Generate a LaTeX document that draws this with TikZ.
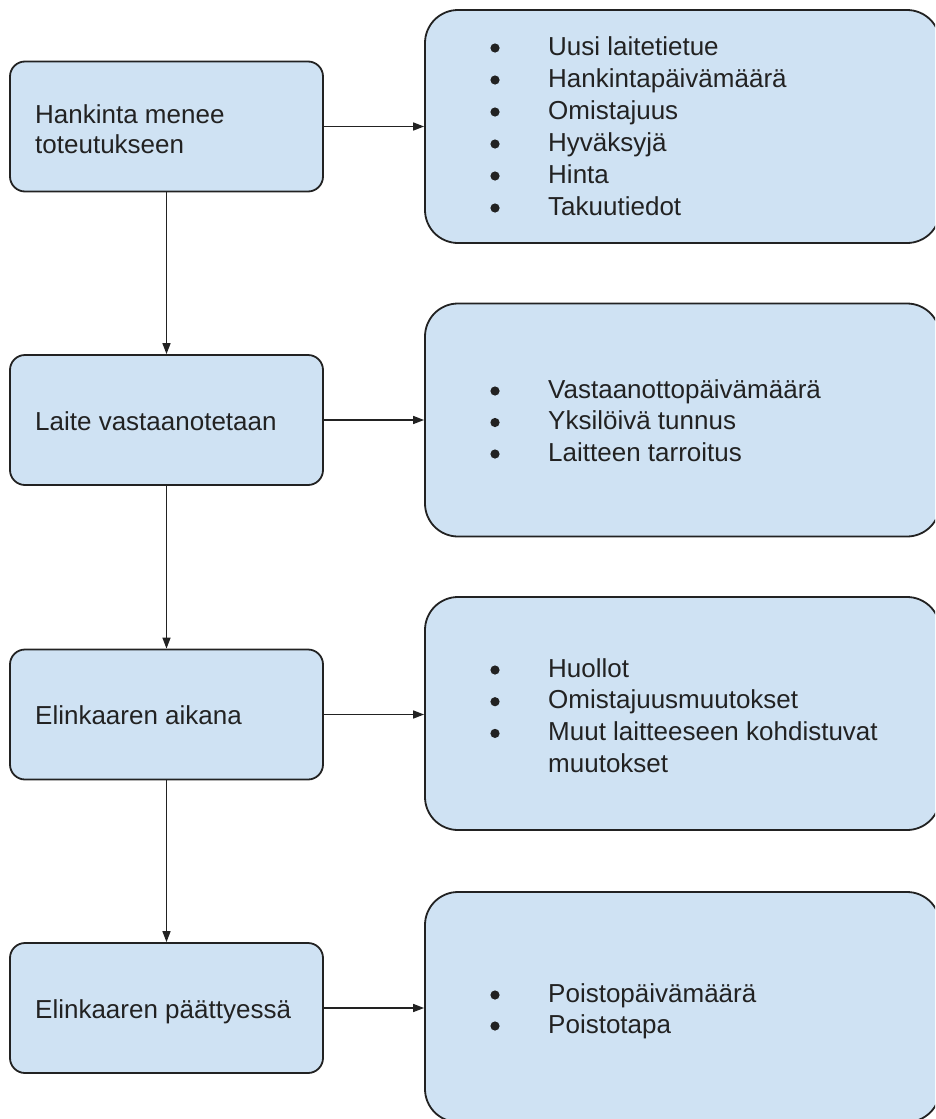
\documentclass[tikz,border=0pt]{standalone}
\usepackage{fontspec}
\setmainfont{Liberation Sans}
\usetikzlibrary{arrows.meta}
\definecolor{boxfill}{HTML}{CFE2F3}
\definecolor{ink}{HTML}{222222}
\begin{document}
\begin{tikzpicture}[x=1pt,y=-1pt,
  leftbox/.style={draw=ink, fill=boxfill, line width=1.8pt, rounded corners=15pt,
                  minimum width=313pt, minimum height=130pt, inner sep=0pt},
  rightbox/.style={draw=ink, fill=boxfill, line width=1.8pt, rounded corners=33pt,
                  minimum width=515pt, minimum height=233pt, inner sep=0pt},
  txt/.style={anchor=base west, inner sep=0pt, text=ink, font=\fontsize{26}{30}\selectfont},
  bul/.style={fill=ink},
  link/.style={draw=ink, line width=1.5pt, -{Triangle[length=11pt,width=8pt]}}]
\useasboundingbox (0,0) rectangle (935,1119);
\clip (0,0) rectangle (935,1119);
\fill[white] (0,0) rectangle (935,1119);

% left column
\node[leftbox] (L1) at (166.5,126.5) {};
\node[leftbox] (L2) at (166.5,420) {};
\node[leftbox] (L3) at (166.5,714.5) {};
\node[leftbox] (L4) at (166.5,1008) {};

% right column
\node[rightbox] (R1) at (682.5,126.5) {};
\node[rightbox] (R2) at (682.5,420) {};
\node[rightbox] (R3) at (682.5,713.5) {};
\node[rightbox, minimum height=230pt] (R4) at (682.5,1007) {};

% connectors
\draw[link] (L1) -- (L2);
\draw[link] (L2) -- (L3);
\draw[link] (L3) -- (L4);
\draw[link] (L1.east) -- (L1.east -| R1.west);
\draw[link] (L2.east) -- (L2.east -| R2.west);
\draw[link] (L3.east) -- (L3.east -| R3.west);
\draw[link] (L4.east) -- (L4.east -| R4.west);

% left texts
\node[txt] (t1) at (35,123) {\vtop{\baselineskip=30pt\hbox{Hankinta menee}\hbox{toteutukseen}}};
\node[txt] (t2) at (35,430) {Laite vastaanotetaan};
\node[txt] (t3) at (35,724) {Elinkaaren aikana};
\node[txt] (t4) at (35,1018) {Elinkaaren päättyessä};

% right texts
\node[txt] (r1) at (548,55) {\vtop{\baselineskip=32pt
  \hbox{Uusi laitetietue}\hbox{Hankintapäivämäärä}\hbox{Omistajuus}
  \hbox{Hyväksyjä}\hbox{Hinta}\hbox{Takuutiedot}}};
\foreach \yy in {55,87,119,151,183,215} \fill[bul] (495,\yy-7) circle (4.6pt);

\node[txt] (r2) at (548,398) {\vtop{\baselineskip=31.5pt
  \hbox{Vastaanottopäivämäärä}\hbox{Yksilöivä tunnus}\hbox{Laitteen tarroitus}}};
\foreach \yy in {398,429.5,461} \fill[bul] (495,\yy-7) circle (4.6pt);

\node[txt] (r3) at (548,677) {\vtop{\baselineskip=31.7pt
  \hbox{Huollot}\hbox{Omistajuusmuutokset}\hbox{Muut laitteeseen kohdistuvat}\hbox{muutokset}}};
\foreach \yy in {677,708.7,740.4} \fill[bul] (495,\yy-7) circle (4.6pt);

\node[txt] (r4) at (548,1002) {\vtop{\baselineskip=31pt
  \hbox{Poistopäivämäärä}\hbox{Poistotapa}}};
\foreach \yy in {1002,1033} \fill[bul] (495,\yy-7) circle (4.6pt);
\end{tikzpicture}
\end{document}
